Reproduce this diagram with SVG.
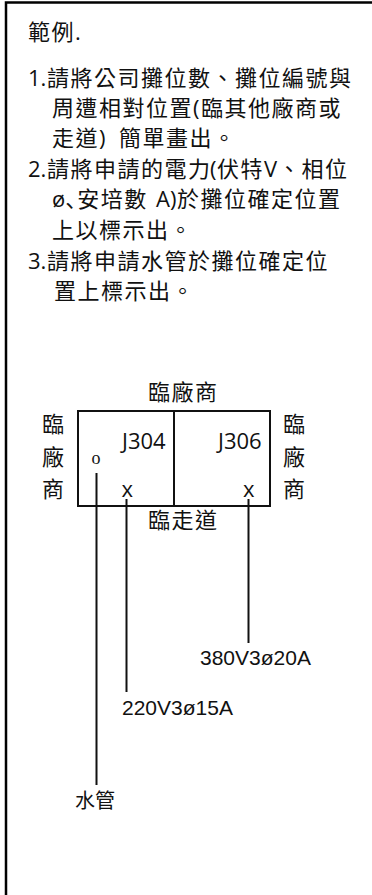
<svg xmlns="http://www.w3.org/2000/svg" width="372" height="895" viewBox="0 0 372 895">
<style>
.t{font-family:"Open Sans","Noto Sans CJK TC",sans-serif;font-size:22px;fill:#111;letter-spacing:1.5px}
.n{letter-spacing:0}
.s{font-family:"Liberation Sans",Arial,sans-serif;font-size:21px;fill:#111}
.o{font-family:"Liberation Serif","Times New Roman",serif;font-size:18px;fill:#111}
.ln{stroke:#111;stroke-width:2;fill:none}
</style>
<rect x="6" y="2.5" width="420" height="1000" fill="#fff" stroke="#000" stroke-width="2.5"/>
<g id="instructions">
<text class="t" x="28" y="40">範例.</text>
<text class="t" y="86"><tspan x="28" class="n">1.</tspan><tspan x="47">請將公司攤位數、攤位編號與</tspan></text>
<text class="t" y="116"><tspan x="52">周遭相對位置(</tspan><tspan x="201">臨其他廠商或</tspan></text>
<text class="t" y="146"><tspan x="52">走道)</tspan><tspan x="119">簡單畫出。</tspan></text>
<text class="t" y="176.5"><tspan x="28" class="n">2.</tspan><tspan x="47">請將申請的電力</tspan><tspan x="210" class="n">(</tspan><tspan x="217">伏特</tspan><tspan x="264" class="n">V</tspan><tspan x="278">、相位</tspan></text>
<text class="t" y="207"><tspan x="52" class="n">ø</tspan><tspan style="letter-spacing:-10px;font-family:'Noto Sans CJK JP',sans-serif">、</tspan><tspan>安培數</tspan><tspan x="156" class="n">A)</tspan><tspan x="177">於攤位確定位置</tspan></text>
<text class="t" y="238"><tspan x="52">上以標示出。</tspan></text>
<text class="t" y="269"><tspan x="28" class="n">3.</tspan><tspan x="47">請將申請水管於攤位確定位</tspan></text>
<text class="t" y="299"><tspan x="54">置上標示出。</tspan></text>
</g>
<g id="booth">
<rect x="78" y="411" width="192" height="95" class="ln"/>
<line x1="174" y1="411" x2="174" y2="506" class="ln"/>
</g>
<g id="label-top"><text class="t" x="148" y="400">臨廠商</text></g>
<g id="label-left">
<text class="t" x="42" y="432">臨</text>
<text class="t" x="42" y="465">廠</text>
<text class="t" x="42" y="497">商</text>
</g>
<g id="label-right">
<text class="t" x="283" y="432">臨</text>
<text class="t" x="283" y="465">廠</text>
<text class="t" x="283" y="497">商</text>
</g>
<g id="label-bottom"><text class="t" x="148" y="528">臨走道</text></g>
<g id="J304"><text class="t n" x="122" y="449">J304</text></g>
<g id="J306"><text class="t n" x="218" y="449">J306</text></g>
<g id="water-mark"><text class="o" x="91.5" y="464">o</text></g>
<g id="x1"><text class="t n" x="121.5" y="497">x</text></g>
<g id="x2"><text class="t n" x="243" y="497">x</text></g>
<g id="connectors">
<line x1="96.5" y1="473" x2="96.5" y2="785" class="ln"/>
<line x1="126.5" y1="499" x2="126.5" y2="692" class="ln"/>
<line x1="248.5" y1="499" x2="248.5" y2="643" class="ln"/>
</g>
<g id="label-380"><text class="s" x="200" y="665">380V3ø20A</text></g>
<g id="label-220"><text class="s" x="122" y="715">220V3ø15A</text></g>
<g id="label-water"><text class="t n" x="75" y="808" style="font-size:20px">水管</text></g>
</svg>
